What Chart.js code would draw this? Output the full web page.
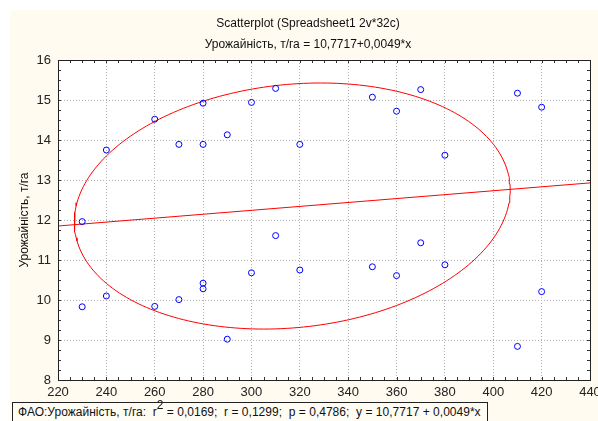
<!DOCTYPE html>
<html>
<head>
<meta charset="utf-8">
<script src="https://cdn.jsdelivr.net/npm/chart.js@4.4.1/dist/chart.umd.min.js"></script>
<style>
html, body { margin: 0; padding: 0; background: #fff; }
#wrap { position: relative; width: 598px; height: 421px; overflow: hidden; }
#stats {
    position: absolute; left: 12px; top: 402px; width: 476px; height: 26px;
    box-sizing: border-box; border: 1px solid #222; background: #fffcf4;
    font: 12px "Liberation Sans", Arial, sans-serif; color: #111; letter-spacing: 0.02px;
    padding-left: 5px; line-height: 19px; white-space: pre;
}
#stats sup { font-size: 12px; line-height: 0; position: relative; top: -2px; }
</style>
</head>
<body>
<div id="wrap">
<canvas id="scatter" width="598" height="421"></canvas>
<div id="stats"></div>
</div>
<script>
// data
var xValues = [230, 230, 240, 240, 260, 260, 270, 270, 280, 280, 280, 280, 290, 290, 300, 300,
               310, 310, 320, 320, 350, 350, 360, 360, 370, 370, 380, 380, 410, 410, 420, 420];
var yValues = [11.96, 9.83, 13.75, 10.10, 14.52, 9.84, 13.89, 10.01, 14.92, 13.89, 10.42, 10.28, 14.13, 9.02, 14.94, 10.68,
               15.29, 11.61, 13.89, 10.75, 15.07, 10.83, 14.72, 10.61, 15.26, 11.43, 13.62, 10.88, 15.17, 8.84, 14.82, 10.21];
var xTickValues = [220, 240, 260, 280, 300, 320, 340, 360, 380, 400, 420, 440];
var yTickValues = [8, 9, 10, 11, 12, 13, 14, 15, 16];

var intercept = 10.7717;
var slope = 0.0049;
var statR2 = '0,0169';
var statR = '0,1299';
var statP = '0,4786';
// ellipse size in sd units
var ellipseKx = 1.56;
var ellipseKy = 1.40;

var mainTitle = 'Scatterplot (Spreadsheet1 2v*32c)';
var subTitle = 'Урожайність, т/га = 10,7717+0,0049*x';
var yTitle = 'Урожайність, т/га';
var FONT = '"Liberation Sans", Arial, sans-serif';

document.getElementById('stats').innerHTML = 'ФАО:Урожайність, т/га:  r<sup>2</sup> = ' + statR2 +
    ';  r = ' + statR + ';  p = ' + statP + ';  y = 10,7717 + 0,0049*x';

let points = xValues.map((x, i) => ({x: x, y: yValues[i]}));

// regression line across the x range
let xMin = xTickValues[0], xMax = xTickValues[xTickValues.length - 1];
let regLine = [{x: xMin, y: intercept + slope * xMin}, {x: xMax, y: intercept + slope * xMax}];

// ellipse from the sample means / sd / correlation
let n = xValues.length;
let mx = xValues.reduce((a, b) => a + b, 0) / n;
let my = yValues.reduce((a, b) => a + b, 0) / n;
let sxx = 0, syy = 0, sxy = 0;
for (let i = 0; i < n; i++) {
    sxx += (xValues[i] - mx) * (xValues[i] - mx);
    syy += (yValues[i] - my) * (yValues[i] - my);
    sxy += (xValues[i] - mx) * (yValues[i] - my);
}
let sx = Math.sqrt(sxx / (n - 1)), sy = Math.sqrt(syy / (n - 1));
let rr = sxy / Math.sqrt(sxx * syy);
let ellipse = [];
for (let i = 0; i <= 240; i++) {
    let t = 2 * Math.PI * i / 240;
    ellipse.push({
        x: mx + ellipseKx * sx * Math.cos(t),
        y: my + ellipseKy * sy * (rr * Math.cos(t) + Math.sqrt(1 - rr * rr) * Math.sin(t))
    });
}

let framePlugin = {
    id: 'frame',
    beforeDraw(chart) {
        let ctx = chart.ctx, a = chart.chartArea;
        ctx.save();
        ctx.fillStyle = '#fffbf0';
        ctx.fillRect(10, 10, chart.width - 10, chart.height - 10);
        ctx.fillStyle = '#ffffff';
        ctx.fillRect(a.left, a.top, a.right - a.left, a.bottom - a.top);
        ctx.fillStyle = '#111';
        ctx.font = '12px ' + FONT;
        ctx.textAlign = 'center';
        ctx.textBaseline = 'middle';
        ctx.fillText(mainTitle, 308, 24);
        ctx.fillText(subTitle, 308, 45);
        ctx.restore();
    },
    afterDraw(chart) {
        let ctx = chart.ctx, a = chart.chartArea;
        let xs = chart.scales.x, ys = chart.scales.y;
        ctx.save();
        ctx.strokeStyle = '#333';
        ctx.lineWidth = 1;
        ctx.beginPath();
        for (let v = xMin; v <= xMax; v += 5) {
            let px = Math.round(xs.getPixelForValue(v)) + 0.5;
            ctx.moveTo(px, a.top); ctx.lineTo(px, a.top + 3);
            ctx.moveTo(px, a.bottom); ctx.lineTo(px, a.bottom - 3);
        }
        for (let v = yTickValues[0]; v <= yTickValues[yTickValues.length - 1]; v += 0.25) {
            let py = Math.round(ys.getPixelForValue(v)) + 0.5;
            ctx.moveTo(a.left, py); ctx.lineTo(a.left + 3, py);
            ctx.moveTo(a.right, py); ctx.lineTo(a.right - 3, py);
        }
        ctx.stroke();
        ctx.strokeStyle = '#222';
        ctx.strokeRect(Math.round(a.left) + 0.5, Math.round(a.top) + 0.5,
            Math.round(a.right - a.left), Math.round(a.bottom - a.top));
        ctx.restore();
    }
};

let gridOpts = {color: '#b0b0b0', lineWidth: 1, drawTicks: false};
let borderOpts = {display: false, dash: [1, 2]};

new Chart(document.getElementById('scatter').getContext('2d'), {
    type: 'scatter',
    data: {
        datasets: [{
            data: points,
            pointRadius: 3,
            pointBorderWidth: 1,
            borderColor: '#0000ff',
            backgroundColor: 'rgba(0,0,0,0)',
            pointHoverRadius: 3
        }, {
            data: regLine,
            showLine: true,
            pointRadius: 0,
            borderColor: '#ff0000',
            borderWidth: 1
        }, {
            data: ellipse,
            showLine: true,
            pointRadius: 0,
            borderColor: '#ff0000',
            borderWidth: 1,
            tension: 0
        }]
    },
    options: {
        responsive: false,
        animation: false,
        events: [],
        layout: {padding: {left: 10, right: 8, top: 60, bottom: 0}},
        plugins: {legend: {display: false}, tooltip: {enabled: false}},
        scales: {
            x: {
                type: 'linear', min: xMin, max: xMax,
                grid: gridOpts, border: borderOpts,
                afterBuildTicks: (s) => { s.ticks = xTickValues.map(v => ({value: v})); },
                afterFit: (s) => { s.height = 41; s.paddingLeft = 0; s.paddingRight = 0; },
                ticks: {color: '#222', padding: 5, font: {family: FONT, size: 13}, maxRotation: 0, autoSkip: false}
            },
            y: {
                type: 'linear', min: yTickValues[0], max: yTickValues[yTickValues.length - 1],
                grid: gridOpts, border: borderOpts,
                afterBuildTicks: (s) => { s.ticks = yTickValues.map(v => ({value: v})); },
                afterFit: (s) => { s.width = 48; s.paddingTop = 0; s.paddingBottom = 0; },
                ticks: {color: '#222', padding: 7, font: {family: FONT, size: 13}},
                title: {display: true, text: yTitle, color: '#111', font: {family: FONT, size: 12}, padding: {top: 7, bottom: 0}}
            }
        }
    },
    plugins: [framePlugin]
});
</script>
</body>
</html>
